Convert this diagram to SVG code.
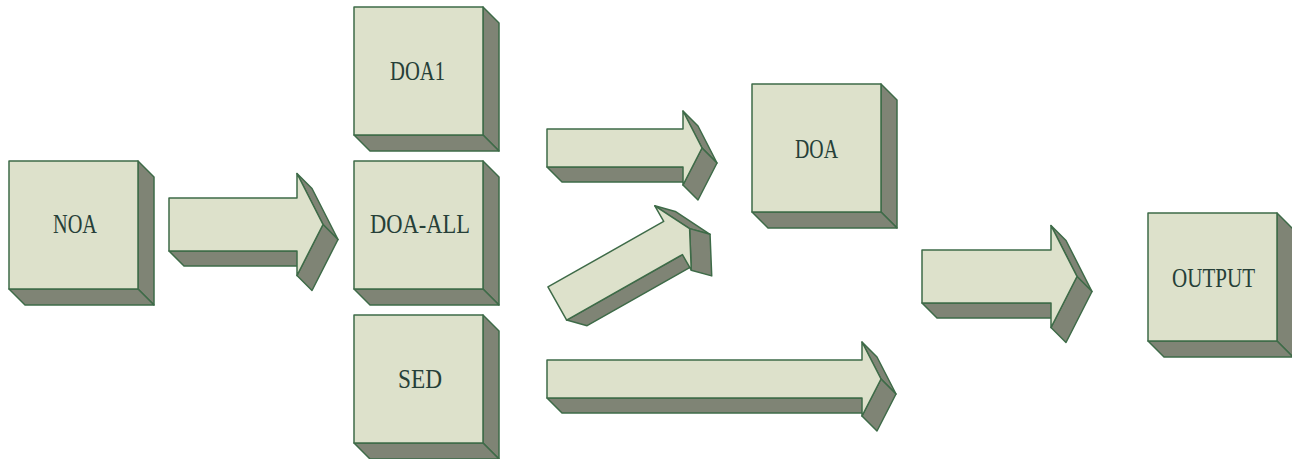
<svg xmlns="http://www.w3.org/2000/svg" xmlns:xlink="http://www.w3.org/1999/xlink" width="1292" height="459" viewBox="0 0 1292 459">
<style>
.front{fill:#dde1cb;stroke:#3e6b48;stroke-width:1.5;stroke-linejoin:round}
.dark{fill:#7f8475;stroke:#3e6b48;stroke-width:1.5;stroke-linejoin:round}
.lbl{font-family:"Liberation Serif","DejaVu Serif",serif;font-size:27px;fill:#263f38}
</style>
<defs>
<g id="box">
<path class="dark" d="M129,0 L145,16 V144 L129,128 Z"/>
<path class="dark" d="M0,128 H129 L145,144 H16 Z"/>
<rect class="front" x="0" y="0" width="129" height="128"/>
</g>
</defs>
<rect width="1292" height="459" fill="#ffffff"/>
<g id="connectors">
<g id="arrow-noa-doaall" transform="translate(169,224.5)">
<path class="dark" d="M0,26.5 H128 L143,41.5 H15 Z"/>
<path class="dark" d="M128,-51 L154,0 L169,15 L143,-36 Z"/>
<path class="dark" d="M128,51 L154,0 L169,15 L143,66 Z"/>
<path class="front" d="M0,-26.5 H128 V-51 L154,0 L128,51 V26.5 H0 Z"/>
</g>
<g id="arrow-doa1-doa" transform="translate(547,148)">
<path class="dark" d="M0,19 H136 L151,34 H15 Z"/>
<path class="dark" d="M136,-37 L155,0 L170,15 L151,-22 Z"/>
<path class="dark" d="M136,37 L155,0 L170,15 L151,52 Z"/>
<path class="front" d="M0,-19 H136 V-37 L155,0 L136,37 V19 H0 Z"/>
</g>
<g id="arrow-doaall-doa" transform="translate(557.3,303.5) rotate(-29.5)">
<path class="dark" d="M0,19 H133 L148,34 H15 Z"/>
<path class="dark" d="M133,-37 L152,0 L167,15 L148,-22 Z"/>
<path class="dark" d="M133,37 L152,0 L167,15 L148,52 Z"/>
<path class="front" d="M0,-19 H133 V-37 L152,0 L133,37 V19 H0 Z"/>
</g>
<g id="arrow-sed-output" transform="translate(547,379)">
<path class="dark" d="M0,19 H315 L330,34 H15 Z"/>
<path class="dark" d="M315,-37 L334,0 L349,15 L330,-22 Z"/>
<path class="dark" d="M315,37 L334,0 L349,15 L330,52 Z"/>
<path class="front" d="M0,-19 H315 V-37 L334,0 L315,37 V19 H0 Z"/>
</g>
<g id="arrow-doa-output" transform="translate(922,276.5)">
<path class="dark" d="M0,26.5 H129 L144,41.5 H15 Z"/>
<path class="dark" d="M129,-51 L155,0 L170,15 L144,-36 Z"/>
<path class="dark" d="M129,51 L155,0 L170,15 L144,66 Z"/>
<path class="front" d="M0,-26.5 H129 V-51 L155,0 L129,51 V26.5 H0 Z"/>
</g>
</g>
<g id="node-noa">
<use xlink:href="#box" href="#box" x="9" y="161"/>
<text class="lbl" x="53" y="233" textLength="44" lengthAdjust="spacingAndGlyphs">NOA</text>
</g>
<g id="node-doa1">
<use xlink:href="#box" href="#box" x="354" y="7"/>
<text class="lbl" x="390" y="80" textLength="55" lengthAdjust="spacingAndGlyphs">DOA1</text>
</g>
<g id="node-doa-all">
<use xlink:href="#box" href="#box" x="354" y="161"/>
<text class="lbl" x="370" y="233" textLength="100" lengthAdjust="spacingAndGlyphs">DOA-ALL</text>
</g>
<g id="node-sed">
<use xlink:href="#box" href="#box" x="354" y="315"/>
<text class="lbl" x="398" y="388" textLength="44" lengthAdjust="spacingAndGlyphs">SED</text>
</g>
<g id="node-doa">
<use xlink:href="#box" href="#box" x="752" y="84"/>
<text class="lbl" x="795" y="158" textLength="43" lengthAdjust="spacingAndGlyphs">DOA</text>
</g>
<g id="node-output">
<use xlink:href="#box" href="#box" x="1148" y="213"/>
<text class="lbl" x="1172" y="287" textLength="83" lengthAdjust="spacingAndGlyphs">OUTPUT</text>
</g>
</svg>
